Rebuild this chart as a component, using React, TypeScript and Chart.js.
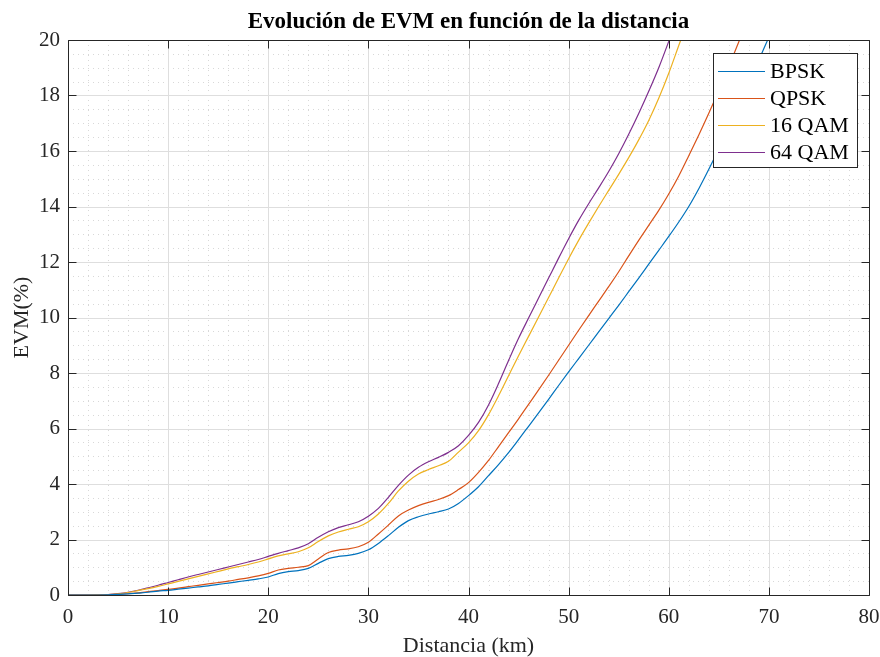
import React, { useEffect, useRef } from "react";
import { Chart, registerables } from "chart.js";

Chart.register(...registerables);

// Distance samples (km)
const distancia = [
  0, 1, 2, 3, 4, 5, 6, 7, 8, 9,
  10, 11, 12, 13, 14, 15, 16, 17, 18, 19,
  20, 21, 22, 23, 24, 25, 26, 27, 28, 29,
  30, 31, 32, 33, 34, 35, 36, 37, 38, 39,
  40, 41, 42, 43, 44, 45, 46, 47, 48, 49,
  50, 51, 52, 53, 54, 55, 56, 57, 58, 59,
  60, 61, 62, 63, 64, 65, 66, 67, 68, 69,
  70,
];

// EVM (%) per modulation, one value per distance sample
const evmBPSK = [
  0, 0, 0, 0, 0.005, 0.02, 0.04, 0.07, 0.1, 0.14,
  0.17, 0.21, 0.25, 0.29, 0.33, 0.38, 0.43, 0.48, 0.53, 0.58,
  0.65, 0.77, 0.84, 0.88, 0.96, 1.14, 1.31, 1.39, 1.43, 1.5,
  1.63, 1.86, 2.14, 2.44, 2.68, 2.82, 2.92, 3.0, 3.1, 3.3,
  3.58, 3.9, 4.3, 4.7, 5.13, 5.6, 6.08, 6.56, 7.05, 7.55,
  8.04, 8.52, 9.0, 9.48, 9.96, 10.44, 10.93, 11.42, 11.92, 12.42,
  12.92, 13.44, 14.0, 14.64, 15.34, 16.08, 16.88, 17.68, 18.48, 19.28,
  20.1,
];

const evmQPSK = [
  0, 0, 0, 0, 0.005, 0.02, 0.045, 0.08, 0.12, 0.16,
  0.2, 0.25, 0.3, 0.35, 0.4, 0.45, 0.5, 0.56, 0.62, 0.69,
  0.78, 0.9, 0.96, 1.0, 1.06, 1.3, 1.53, 1.62, 1.66, 1.74,
  1.9, 2.2, 2.52, 2.85, 3.06, 3.22, 3.34, 3.44, 3.58, 3.8,
  4.05, 4.42, 4.85, 5.35, 5.85, 6.35, 6.87, 7.39, 7.92, 8.46,
  9.0, 9.54, 10.07, 10.59, 11.11, 11.65, 12.22, 12.78, 13.32, 13.86,
  14.45, 15.1, 15.83, 16.58, 17.36, 18.18, 19.04, 19.94, 20.85,
];

const evm16QAM = [
  0, 0, 0, 0.005, 0.01, 0.04, 0.09, 0.16, 0.23, 0.31,
  0.4, 0.49, 0.58, 0.67, 0.76, 0.85, 0.94, 1.02, 1.1, 1.19,
  1.3, 1.41, 1.48, 1.56, 1.7, 1.93, 2.13, 2.27, 2.37, 2.46,
  2.64, 2.92, 3.3, 3.75, 4.1, 4.36, 4.52, 4.66, 4.82, 5.15,
  5.48, 5.92, 6.5, 7.18, 7.9, 8.62, 9.32, 10.02, 10.72, 11.42,
  12.12, 12.78, 13.4, 14.0, 14.58, 15.16, 15.76, 16.4, 17.1, 17.9,
  18.8, 19.8, 20.8,
];

const evm64QAM = [
  0, 0, 0, 0.005, 0.015, 0.05, 0.1, 0.17, 0.26, 0.35,
  0.45, 0.55, 0.65, 0.74, 0.83, 0.92, 1.01, 1.1, 1.19, 1.28,
  1.39, 1.5, 1.6, 1.7, 1.85, 2.08, 2.28, 2.43, 2.53, 2.64,
  2.84, 3.12, 3.52, 3.95, 4.32, 4.6, 4.8, 4.96, 5.14, 5.38,
  5.75, 6.22, 6.85, 7.62, 8.45, 9.25, 9.98, 10.7, 11.42, 12.14,
  12.84, 13.5, 14.1, 14.67, 15.26, 15.9, 16.6, 17.35, 18.15, 19.0,
  19.95, 20.95,
];

const seriesLabels = ["BPSK", "QPSK", "16 QAM", "64 QAM"];
const seriesValues = [evmBPSK, evmQPSK, evm16QAM, evm64QAM];
const seriesColors = ["#0072BD", "#D95319", "#EDB120", "#7E2F8E"];

const chartTitle = "Evolución de EVM en función de la distancia";
const xTitle = "Distancia (km)";
const yTitle = "EVM(%)";

const X_MIN = 0, X_MAX = 80, X_STEP = 10, X_MINOR = 2;
const Y_MIN = 0, Y_MAX = 20, Y_STEP = 2, Y_MINOR = 0.5;

const SERIF = "Liberation Serif";
const AXIS_COLOR = "#262626";

function range(a: number, b: number, s: number): number[] {
  const out: number[] = [];
  for (let v = a; v <= b + 1e-9; v += s) out.push(Math.round(v * 1000) / 1000);
  return out;
}

// Grid lines (dotted minor, solid major) drawn under the curves
const gridPlugin = {
  id: "axesGrid",
  beforeDatasetsDraw(chart: any) {
    const { ctx, chartArea: a, scales } = chart;
    const x = scales.x, y = scales.y;
    ctx.save();
    ctx.lineWidth = 1;
    // minor
    ctx.strokeStyle = "#d8d8d8";
    ctx.setLineDash([1, 4]);
    ctx.beginPath();
    for (const v of range(X_MIN, X_MAX, X_MINOR)) {
      if (Math.abs(v % X_STEP) < 1e-6) continue;
      const px = Math.round(x.getPixelForValue(v)) + 0.5;
      ctx.moveTo(px, a.top);
      ctx.lineTo(px, a.bottom);
    }
    for (const v of range(Y_MIN, Y_MAX, Y_MINOR)) {
      if (Math.abs(v % Y_STEP) < 1e-6) continue;
      const py = Math.round(y.getPixelForValue(v)) + 0.5;
      ctx.moveTo(a.left, py);
      ctx.lineTo(a.right, py);
    }
    ctx.stroke();
    // major
    ctx.setLineDash([]);
    ctx.strokeStyle = "#dedede";
    ctx.beginPath();
    for (const v of range(X_MIN, X_MAX, X_STEP)) {
      const px = Math.round(x.getPixelForValue(v)) + 0.5;
      ctx.moveTo(px, a.top);
      ctx.lineTo(px, a.bottom);
    }
    for (const v of range(Y_MIN, Y_MAX, Y_STEP)) {
      const py = Math.round(y.getPixelForValue(v)) + 0.5;
      ctx.moveTo(a.left, py);
      ctx.lineTo(a.right, py);
    }
    ctx.stroke();
    ctx.restore();
  },
};

// Box, inward ticks, titles and legend drawn over the curves
const framePlugin = {
  id: "axesFrame",
  afterDraw(chart: any) {
    const { ctx, chartArea: a, scales } = chart;
    const x = scales.x, y = scales.y;
    const L = Math.round(a.left) + 0.5, R = Math.round(a.right) + 0.5;
    const T = Math.round(a.top) + 0.5, B = Math.round(a.bottom) + 0.5;
    const tickLen = 8;
    ctx.save();
    ctx.strokeStyle = AXIS_COLOR;
    ctx.lineWidth = 1;
    ctx.beginPath();
    ctx.rect(L, T, R - L, B - T);
    for (const v of range(X_MIN, X_MAX, X_STEP)) {
      const px = Math.round(x.getPixelForValue(v)) + 0.5;
      ctx.moveTo(px, B); ctx.lineTo(px, B - tickLen);
      ctx.moveTo(px, T); ctx.lineTo(px, T + tickLen);
    }
    for (const v of range(Y_MIN, Y_MAX, Y_STEP)) {
      const py = Math.round(y.getPixelForValue(v)) + 0.5;
      ctx.moveTo(L, py); ctx.lineTo(L + tickLen, py);
      ctx.moveTo(R, py); ctx.lineTo(R - tickLen, py);
    }
    ctx.stroke();

    // title
    ctx.fillStyle = "#000";
    ctx.textAlign = "center";
    ctx.textBaseline = "alphabetic";
    ctx.font = `bold 23px ${SERIF}`;
    ctx.fillText(chartTitle, (a.left + a.right) / 2, 28);

    // axis titles
    ctx.fillStyle = AXIS_COLOR;
    ctx.font = `22px ${SERIF}`;
    ctx.textBaseline = "middle";
    ctx.fillText(xTitle, (a.left + a.right) / 2, 646);
    ctx.save();
    ctx.translate(22, (a.top + a.bottom) / 2);
    ctx.rotate(-Math.PI / 2);
    ctx.fillText(yTitle, 0, 0);
    ctx.restore();

    // legend
    const lx = 713.5, ly = 53.5, lw = 144, lh = 114;
    ctx.fillStyle = "#fff";
    ctx.fillRect(lx, ly, lw, lh);
    ctx.strokeStyle = AXIS_COLOR;
    ctx.strokeRect(lx, ly, lw, lh);
    ctx.font = `22px ${SERIF}`;
    ctx.textAlign = "left";
    ctx.textBaseline = "middle";
    seriesLabels.forEach((label, i) => {
      const cy = 71 + i * 27;
      ctx.strokeStyle = seriesColors[i];
      ctx.lineWidth = 1.2;
      ctx.beginPath();
      ctx.moveTo(718, cy + 0.5);
      ctx.lineTo(765, cy + 0.5);
      ctx.stroke();
      ctx.fillStyle = "#000";
      ctx.fillText(label, 770, cy + 1);
    });
    ctx.restore();
  },
};

export default function App() {
  const canvasRef = useRef<HTMLCanvasElement | null>(null);

  useEffect(() => {
    const canvas = canvasRef.current;
    if (!canvas) return;
    const datasets = seriesLabels.map((label, i) => ({
      label,
      data: seriesValues[i].map((v, k) => ({ x: distancia[k], y: v })),
      borderColor: seriesColors[i],
      backgroundColor: seriesColors[i],
      borderWidth: 1.2,
      pointRadius: 0,
      cubicInterpolationMode: "monotone" as const,
      fill: false,
    }));

    const chart = new Chart(canvas, {
      type: "line",
      data: { datasets },
      options: {
        responsive: false,
        animation: false,
        devicePixelRatio: 1,
        layout: { padding: { top: 40, right: 11, left: 0, bottom: 0 } },
        plugins: {
          legend: { display: false },
          title: { display: false },
          tooltip: { enabled: false },
        },
        scales: {
          x: {
            type: "linear",
            min: X_MIN,
            max: X_MAX,
            grid: { display: false, drawTicks: false },
            border: { display: false },
            ticks: {
              stepSize: X_STEP,
              color: AXIS_COLOR,
              padding: 10,
              maxRotation: 0,
              font: { family: SERIF, size: 21 },
            },
            afterFit: (s: any) => { s.height = 62; s.paddingLeft = 0; s.paddingRight = 0; },
          },
          y: {
            type: "linear",
            min: Y_MIN,
            max: Y_MAX,
            grid: { display: false, drawTicks: false },
            border: { display: false },
            ticks: {
              stepSize: Y_STEP,
              color: AXIS_COLOR,
              padding: 8,
              font: { family: SERIF, size: 21 },
            },
            afterFit: (s: any) => { s.width = 68; s.paddingTop = 0; s.paddingBottom = 0; },
          },
        },
      },
      plugins: [gridPlugin, framePlugin],
    });
    return () => chart.destroy();
  }, []);

  return (
    <div style={{ position: "absolute", left: 0, top: 0, width: 880, height: 657, background: "#fff" }}>
      <canvas ref={canvasRef} width={880} height={657} style={{ width: 880, height: 657, display: "block" }} />
    </div>
  );
}
